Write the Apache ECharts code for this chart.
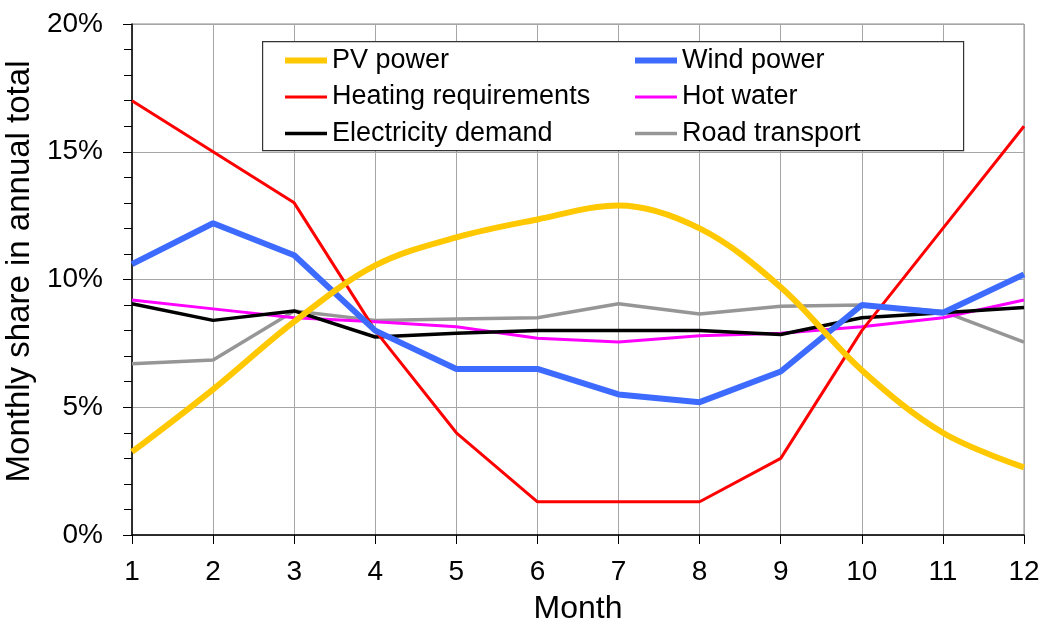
<!DOCTYPE html>
<html><head><meta charset="utf-8">
<script src="https://cdn.jsdelivr.net/npm/echarts@6/dist/echarts.min.js"></script>
<style>html,body{margin:0;padding:0;background:#fff}#c{width:1043px;height:623px}</style>
</head><body><div id="c"></div>
<script>
const months = [1,2,3,4,5,6,7,8,9,10,11,12];
const yTicks = [0,5,10,15,20];
const pvPower = [3.25,5.7,8.35,10.55,11.65,12.35,12.9,12.0,9.7,6.45,4.0,2.65];
const windPower = [10.6,12.2,10.95,8.0,6.5,6.5,5.5,5.2,6.4,9.0,8.7,10.2];
const heating = [17.0,15.0,13.0,8.0,4.0,1.3,1.3,1.3,3.0,8.0,12.0,16.0];
const hotWater = [9.2,8.85,8.5,8.35,8.15,7.7,7.55,7.8,7.9,8.15,8.5,9.2];
const electricity = [9.05,8.4,8.77,7.75,7.9,8.0,8.0,8.0,7.85,8.5,8.7,8.9];
const roadTransport = [6.7,6.85,8.77,8.4,8.45,8.5,9.05,8.65,8.95,9.0,8.75,7.55];

const pair = arr => months.map((m,i)=>[m,arr[i]]);
const FONT = 'Liberation Sans, Arial, sans-serif';
const chart = echarts.init(document.getElementById('c'), null, {renderer:'canvas'});
function line(name, data, color, width, smooth){
  return {name, type:'line', data: pair(data), smooth: smooth||false, symbol:'none', showSymbol:false,
    lineStyle:{color, width}, itemStyle:{color}, z: 2, animation:false};
}
const legendText = {fontFamily:FONT, fontSize:27, color:'#000', lineHeight:27};
const legendCommon = {orient:'vertical', top:47, padding:0, itemWidth:42, itemHeight:14, itemGap:9.5,
  itemTextGap:4, z:10, textStyle:legendText, itemStyle:{opacity:0}, lineStyle:{width:'inherit'}};
chart.setOption({
  animation:false,
  grid:{left:132, right:19, top:24, bottom:88, show:true, borderColor:'#8c8c8c', borderWidth:1,
    containLabel:false, outerBoundsMode:'none'},
  xAxis:{type:'value', min:1, max:12, interval:1, name:'Month', nameLocation:'middle', nameGap:58,
    nameTextStyle:{fontFamily:FONT, fontSize:32, color:'#000'},
    axisLine:{show:true, onZero:false, lineStyle:{color:'#000', width:1.5}},
    axisTick:{show:true, length:9, lineStyle:{color:'#000'}},
    axisLabel:{fontFamily:FONT, fontSize:28, color:'#000', margin:23},
    splitLine:{show:true, lineStyle:{color:'#a6a6a6', width:1}}},
  yAxis:{type:'value', min:yTicks[0], max:yTicks[yTicks.length-1], interval:5,
    name:'Monthly share in annual total', nameLocation:'middle', nameGap:92, nameRotate:90,
    nameTextStyle:{fontFamily:FONT, fontSize:33, color:'#000', padding:[0,0,0,16]},
    axisLine:{show:true, lineStyle:{color:'#000', width:1.5}},
    axisTick:{show:true, length:9, lineStyle:{color:'#000'}},
    minorTick:{show:true, splitNumber:5, length:8, lineStyle:{color:'#000'}},
    axisLabel:{fontFamily:FONT, fontSize:28, color:'#000', margin:29, formatter:'{value}%'},
    splitLine:{show:true, lineStyle:{color:'#a6a6a6', width:1}}},
  legend:[
    Object.assign({data:['PV power','Heating requirements','Electricity demand'], left:282}, legendCommon),
    Object.assign({data:['Wind power','Hot water','Road transport'], left:632}, legendCommon)
  ],
  graphic:[{type:'rect', left:262, top:41, z:5, shape:{width:701, height:109},
    style:{fill:'#fff', stroke:'#333', lineWidth:1.2}, silent:true}],
  series:[
    line('Road transport', roadTransport, '#969696', 3.5),
    line('Hot water', hotWater, '#FF00FF', 3),
    line('Electricity demand', electricity, '#000000', 3.5),
    line('Heating requirements', heating, '#FF0000', 3),
    line('Wind power', windPower, '#3D6BFF', 6),
    line('PV power', pvPower, '#FFC800', 6, 0.35)
  ]
});
</script></body></html>
